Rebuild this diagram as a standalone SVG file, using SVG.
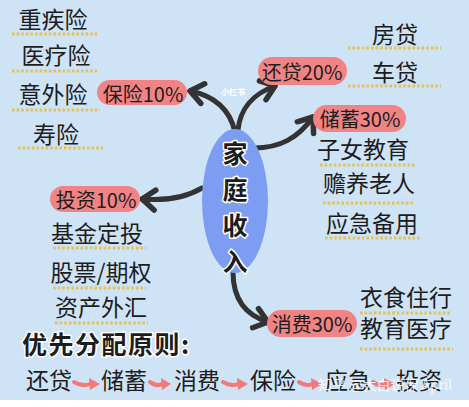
<svg xmlns="http://www.w3.org/2000/svg" width="469" height="407" viewBox="0 0 469 407">
<defs>
<style>
.t{font-family:"Noto Sans CJK SC","Noto Sans",sans-serif;fill:#1c1c1c;dominant-baseline:central;text-anchor:middle}
.item{font-size:23px}
.pill rect{fill:#f08484}
.pill text{font-size:20px}
.dot{stroke:#e2c455;stroke-width:3;stroke-dasharray:2.6 2;fill:none}
.arr{stroke:#333;stroke-width:5;fill:none;stroke-linecap:round}
.pk{stroke:#ef7b7b;stroke-width:4;fill:none;stroke-linecap:round}
.pkh{fill:#ef7b7b}
.ctr{font-size:25px;font-weight:bold;stroke:#fff;stroke-width:3;paint-order:stroke;stroke-linejoin:round}
</style>
<marker id="ah" markerUnits="userSpaceOnUse" markerWidth="30" markerHeight="30" viewBox="-20 -15 30 30" refX="0" refY="0" orient="auto">
<path d="M-13,-10 L0,0 L-13,10" fill="none" stroke="#333" stroke-width="5.5" stroke-linecap="round" stroke-linejoin="round"/>
</marker>
</defs>
<rect width="469" height="407" fill="#ffffff"/>
<rect width="469" height="400" fill="#cfe3f7"/>

<g id="connectors">
<path class="arr" d="M235,132 C230,110 215,96 190,91" marker-end="url(#ah)"/>
<path class="arr" d="M238,130 C240,110 252,94 275,86" marker-end="url(#ah)"/>
<path class="arr" d="M254,148 C280,148 298,138 313,117" marker-end="url(#ah)"/>
<path class="arr" d="M202,188 C185,198 165,201 142,199" marker-end="url(#ah)"/>
<path class="arr" d="M233,272 C233,295 242,314 268,322" marker-end="url(#ah)"/>
</g>

<g id="center">
<ellipse cx="235" cy="201" rx="33" ry="72" fill="#7d9df2"/>
<text class="t ctr" x="235" y="152">家</text>
<text class="t ctr" x="235" y="188">庭</text>
<text class="t ctr" x="235" y="224">收</text>
<text class="t ctr" x="235" y="260">入</text>
</g>

<g id="insurance">
<g class="pill"><rect x="97" y="80" width="90" height="25" rx="12.5"/><text class="t" x="143" y="93">保险10%</text></g>
<text class="t item" x="53" y="18">重疾险</text>
<line class="dot" x1="12" y1="34" x2="97" y2="34"/>
<text class="t item" x="56" y="54">医疗险</text>
<line class="dot" x1="12" y1="71" x2="97" y2="71"/>
<text class="t item" x="53" y="93">意外险</text>
<line class="dot" x1="12" y1="110" x2="100" y2="110"/>
<text class="t item" x="56" y="133">寿险</text>
<line class="dot" x1="18" y1="148" x2="103" y2="148"/>
</g>

<g id="loan">
<g class="pill"><rect x="258" y="57" width="89" height="28" rx="14"/><text class="t" x="302" y="71">还贷20%</text></g>
<text class="t item" x="395" y="33">房贷</text>
<line class="dot" x1="348" y1="48" x2="441" y2="48"/>
<text class="t item" x="395" y="71">车贷</text>
<line class="dot" x1="348" y1="86" x2="441" y2="86"/>
</g>

<g id="savings">
<g class="pill"><rect x="313" y="105" width="93" height="27" rx="13.5"/><text class="t" x="360" y="118">储蓄30%</text></g>
<text class="t item" x="363" y="148">子女教育</text>
<line class="dot" x1="320" y1="165" x2="415" y2="165"/>
<text class="t item" x="369" y="182">赡养老人</text>
<line class="dot" x1="323" y1="203" x2="415" y2="203"/>
<text class="t item" x="372" y="222">应急备用</text>
<line class="dot" x1="325" y1="238" x2="420" y2="238"/>
</g>

<g id="invest">
<g class="pill"><rect x="50" y="186" width="90" height="26" rx="13"/><text class="t" x="96" y="199">投资10%</text></g>
<text class="t item" x="97" y="232">基金定投</text>
<line class="dot" x1="53" y1="248" x2="146" y2="248"/>
<text class="t item" x="101" y="271">股票/期权</text>
<line class="dot" x1="53" y1="288" x2="146" y2="288"/>
<text class="t item" x="101" y="306">资产外汇</text>
<line class="dot" x1="55" y1="323" x2="148" y2="323"/>
</g>

<g id="consume">
<g class="pill"><rect x="267" y="310" width="90" height="27" rx="13.5"/><text class="t" x="312" y="323">消费30%</text></g>
<text class="t item" x="406" y="296">衣食住行</text>
<line class="dot" x1="360" y1="313" x2="452" y2="313"/>
<text class="t item" x="406" y="327">教育医疗</text>
<line class="dot" x1="360" y1="349" x2="453" y2="349"/>
</g>

<g id="priority">
<text class="t" x="22" y="343" style="text-anchor:start;font-size:25px;letter-spacing:1.5px;font-weight:bold;stroke:#fff;stroke-width:3;paint-order:stroke;stroke-linejoin:round">优先分配原则:</text>
<text class="t item" x="49" y="379">还贷</text>
<text class="t item" x="124" y="379">储蓄</text>
<text class="t item" x="197" y="379">消费</text>
<text class="t item" x="273" y="379">保险</text>
<text class="t item" x="348" y="379">应急</text>
<text class="t item" x="419" y="379">投资</text>
<path class="pk" d="M74,382 Q82,387 90,384"/><path class="pkh" d="M89,378 L100,384 L90,390 Z"/>
<path class="pk" d="M150,382 Q157,387 162,384"/><path class="pkh" d="M161,378 L171,384 L162,390 Z"/>
<path class="pk" d="M223,382 Q231,387 238,384"/><path class="pkh" d="M237,378 L248,384 L238,390 Z"/>
<path class="pk" d="M299,382 Q306,387 312,384"/><path class="pkh" d="M311,378 L322,384 L312,390 Z"/>
<path class="pk" d="M373,382 Q380,387 385,384"/><path class="pkh" d="M384,378 L395,384 L385,390 Z"/>
</g>

<g id="watermarks">
<text x="318" y="390" style="font-family:'Noto Sans CJK SC',sans-serif;font-size:14px;fill:#ffffff;fill-opacity:0.85">知乎 @大白说保 April</text>
<text x="233" y="95" style="font-family:'Noto Sans CJK SC',sans-serif;font-size:8px;font-weight:bold;fill:#ffffff;text-anchor:middle">小红书</text>
</g>
</svg>
